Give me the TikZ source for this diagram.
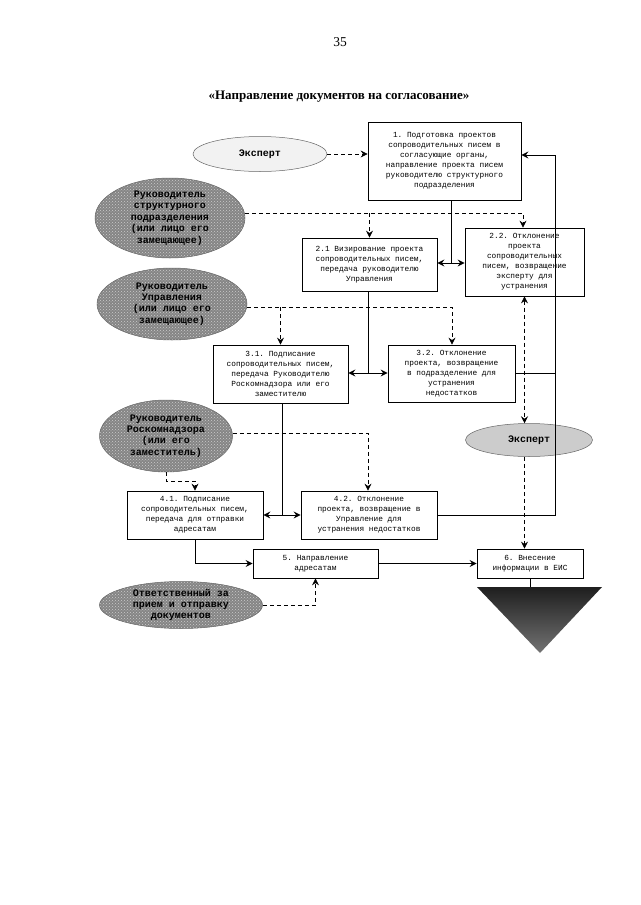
\documentclass[tikz,border=0pt]{standalone}
\usepackage{fontspec}
\setmainfont{Liberation Serif}
\setmonofont{Liberation Mono}
\usetikzlibrary{arrows.meta,shapes.geometric,patterns}

\begin{document}
\begin{tikzpicture}[x=1pt,y=-1pt,
	>={Stealth[length=7pt,width=7pt,inset=2.5pt]},
	etap/.style={draw,line width=0.8pt,align=center,inner sep=1pt,font=\ttfamily\fontsize{7.8}{10}\selectfont},
	uchastnik/.style={ellipse,draw=black!60,line width=0.5pt,align=center,inner sep=0pt,font=\ttfamily\bfseries\fontsize{10}{11.4}\selectfont},
	temnyi/.style={uchastnik,preaction={fill=black!48},pattern=crosshatch dots,pattern color=white!80!black},
	svetlyi/.style={uchastnik,fill=black!5},
	seryi/.style={uchastnik,fill=black!20},
	potok/.style={->,line width=1pt},
	ukaz/.style={->,line width=0.7pt,dash pattern=on 4pt off 3pt}]
	\useasboundingbox (0,0) rectangle (640,905);
	\node (stranica) at (340,42) {\fontsize{13.5}{15}\selectfont 35};
	\node (zagolovok) at (339,97) {\bfseries\fontsize{13}{15}\selectfont «Направление документов на согласование»};
	% этапы
	\node[etap,minimum width=153pt,minimum height=78pt] (b1) at (444.5,161) {1. Подготовка проектов\\сопроводительных писем в\\согласующие органы,\\направление проекта писем\\руководителю структурного\\подразделения};
	\node[etap,minimum width=135pt,minimum height=53pt] (b21) at (369.5,264.5) {2.1 Визирование проекта\\сопроводительных писем,\\передача руководителю\\Управления};
	\node[etap,minimum width=119pt,minimum height=68pt] (b22) at (524.5,262) {2.2. Отклонение\\проекта\\сопроводительных\\писем, возвращение\\эксперту для\\устранения};
	\node[etap,minimum width=135pt,minimum height=58pt] (b31) at (280.5,374) {3.1. Подписание\\сопроводительных писем,\\передача Руководителю\\Роскомнадзора или его\\заместителю};
	\node[etap,minimum width=127pt,minimum height=57pt] (b32) at (451.5,373.5) {3.2. Отклонение\\проекта, возвращение\\в подразделение для\\устранения\\недостатков};
	\node[etap,minimum width=136pt,minimum height=48pt] (b41) at (195,515) {4.1. Подписание\\сопроводительных писем,\\передача для отправки\\адресатам};
	\node[etap,minimum width=136pt,minimum height=48pt] (b42) at (369,515) {4.2. Отклонение\\проекта, возвращение в\\Управление для\\устранения недостатков};
	\node[etap,minimum width=125pt,minimum height=29pt] (b5) at (315.5,563.5) {5. Направление\\адресатам};
	\node[etap,minimum width=106pt,minimum height=29pt] (b6) at (530,563.5) {6. Внесение\\информации в ЕИС};
	% участники
	\node[svetlyi,minimum width=134pt,minimum height=35pt] (e1) at (260,154) {Эксперт};
	\node[temnyi,minimum width=150pt,minimum height=80pt] (e2) at (170,218) {Руководитель\\структурного\\подразделения\\(или лицо его\\замещающее)};
	\node[temnyi,minimum width=150pt,minimum height=72pt] (e3) at (172,304) {Руководитель\\Управления\\(или лицо его\\замещающее)};
	\node[temnyi,minimum width=133pt,minimum height=72pt] (e4) at (166,436) {Руководитель\\Роскомнадзора\\(или его\\заместитель)};
	\node[seryi,minimum width=127pt,minimum height=33pt] (e5) at (529,440) {Эксперт};
	\node[temnyi,minimum width=163pt,minimum height=47pt] (e6) at (181,605) {Ответственный за\\прием и отправку\\документов};
	\coordinate (j2) at (451,263);
	\coordinate (j3) at (368,373);
	\coordinate (j4) at (282,515);
	\coordinate (v1) at (555,155);
	\coordinate (d2) at (523,213);
	\coordinate (d3) at (452,307);
	\coordinate (d4) at (368,433);
	\coordinate (d41) at (195,481);
	\draw [potok,-] (b1.south -| j2) -- (j2);
	\draw [potok] (j2) -- (j2 -| b21.east);
	\draw [potok] (j2) -- (j2 -| b22.west);
	\draw [potok,-] (b21.south -| j3) -- (j3);
	\draw [potok] (j3) -- (j3 -| b31.east);
	\draw [potok] (j3) -- (j3 -| b32.west);
	\draw [potok,-] (b31.south -| j4) -- (j4);
	\draw [potok] (j4) -- (j4 -| b41.east);
	\draw [potok] (j4) -- (j4 -| b42.west);
	\draw [potok] (b42.east) -| (v1) -- (v1 -| b1.east);
	\draw [potok,-] (b32.east) -- (b32.east -| v1);
	\draw [potok] (b41.south) |- (b5.west);
	\draw [potok] (b5.east) -- (b6.west);
	% указания
	\draw [ukaz] (e1.east) -- (e1.east -| b1.west);
	\draw [ukaz] (e2.east |- d2) -- (d2) -- (d2 |- b22.north);
	\draw [ukaz] (b21.north |- d2) -- (b21.north);
	\draw [ukaz] (e3.east |- d3) -- (d3) -- (d3 |- b32.north);
	\draw [ukaz] (b31.north |- d3) -- (b31.north);
	\draw [ukaz] (e4.east |- d4) -- (d4) -- (d4 |- b42.north);
	\draw [ukaz] (e4.south) |- (d41) -- (b41.north);
	\draw [ukaz,<->] (b22.south) -- (b22.south |- e5.north);
	\draw [ukaz] (b22.south |- e5.south) -- (b22.south |- b6.north);
	\draw [ukaz] (e6.east) -| (b5.south);
	% конец
	\coordinate (t1) at (477,587);
	\coordinate (t2) at (602,587);
	\coordinate (t3) at (540,653);
	\shade [top color=black!88,bottom color=black!55] (t1) -- (t2) -- (t3) -- cycle;
	\draw [line width=0.8pt] (b6.south) -- (b6.south |- t1);
\end{tikzpicture}
\end{document}
